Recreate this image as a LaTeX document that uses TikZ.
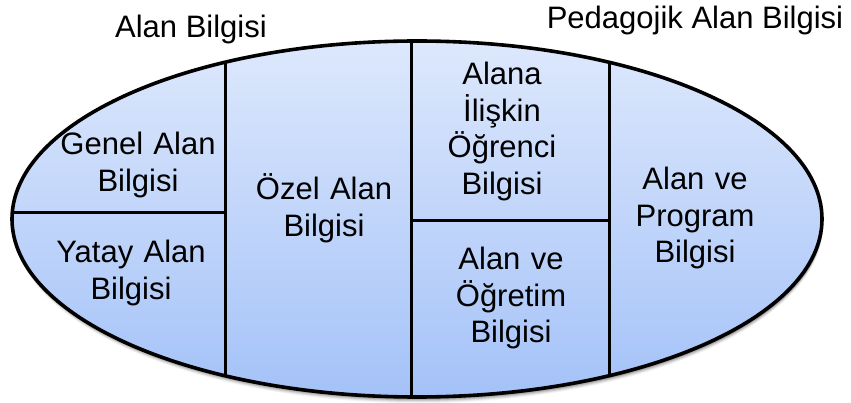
\documentclass[tikz,border=0pt]{standalone}
\usepackage{fontspec}
\setmainfont{Liberation Sans}
\usetikzlibrary{shapes.geometric}
\definecolor{topblue}{HTML}{DDE8FC}
\definecolor{botblue}{HTML}{A4C2F8}
\tikzset{
  lbl/.style={font=\fontsize{31}{36.5}\selectfont, align=center, inner sep=0pt, text width=200pt, anchor=base},
  ttl/.style={font=\fontsize{31}{36.5}\selectfont, inner sep=0pt, anchor=base},
  divider/.style={line width=3pt, black},
  outer/.style={ellipse, minimum width=810pt, minimum height=356pt, inner sep=0pt, top color=topblue, bottom color=botblue}
}
\begin{document}
\begin{tikzpicture}[x=1pt, y=-1pt]
\useasboundingbox (0,0) rectangle (851,403);
% soft shadow
\foreach \s/\o in {6/0.05,5/0.07,4/0.10,3/0.13,2/0.16}{
  \fill[black, opacity=\o] (418,219+\s) ellipse [x radius=405, y radius=178];
}
\node[outer] (ell) at (417,219) {};
% divider end points
\coordinate (v1t) at (225,62.3);
\coordinate (v1b) at (225,375.7);
\coordinate (v2t) at (411,41.2);
\coordinate (v2b) at (411,396.8);
\coordinate (v3t) at (609,62.3);
\coordinate (v3b) at (609,375.7);
\coordinate (h1l) at (12.5,213);
\coordinate (h1r) at (225,213);
\coordinate (h2l) at (411,221);
\coordinate (h2r) at (609,221);
\draw[divider] (v1t) -- (v1b);
\draw[divider] (v2t) -- (v2b);
\draw[divider] (v3t) -- (v3b);
\draw[divider] (h1l) -- (h1r);
\draw[divider] (h2l) -- (h2r);
\draw[line width=3.6pt] (ell.center) ellipse [x radius=405, y radius=178];
% labels
\node[ttl] (t1) at (191,38) {Alan Bilgisi};
\node[ttl] (t2) at (695,29) {Pedagojik Alan Bilgisi};
\node[lbl] (genel) at (138,155) {Genel Alan\\Bilgisi};
\node[lbl] (yatay) at (131,263) {Yatay Alan\\Bilgisi};
\node[lbl] (ozel) at (324,200) {Özel Alan\\Bilgisi};
\node[lbl] (ogrenci) at (502,85) {Alana\\İlişkin\\Öğrenci\\Bilgisi};
\node[lbl] (ogretim) at (511,270) {Alan ve\\Öğretim\\Bilgisi};
\node[lbl] (program) at (695,190) {Alan ve\\Program\\Bilgisi};
\end{tikzpicture}
\end{document}
